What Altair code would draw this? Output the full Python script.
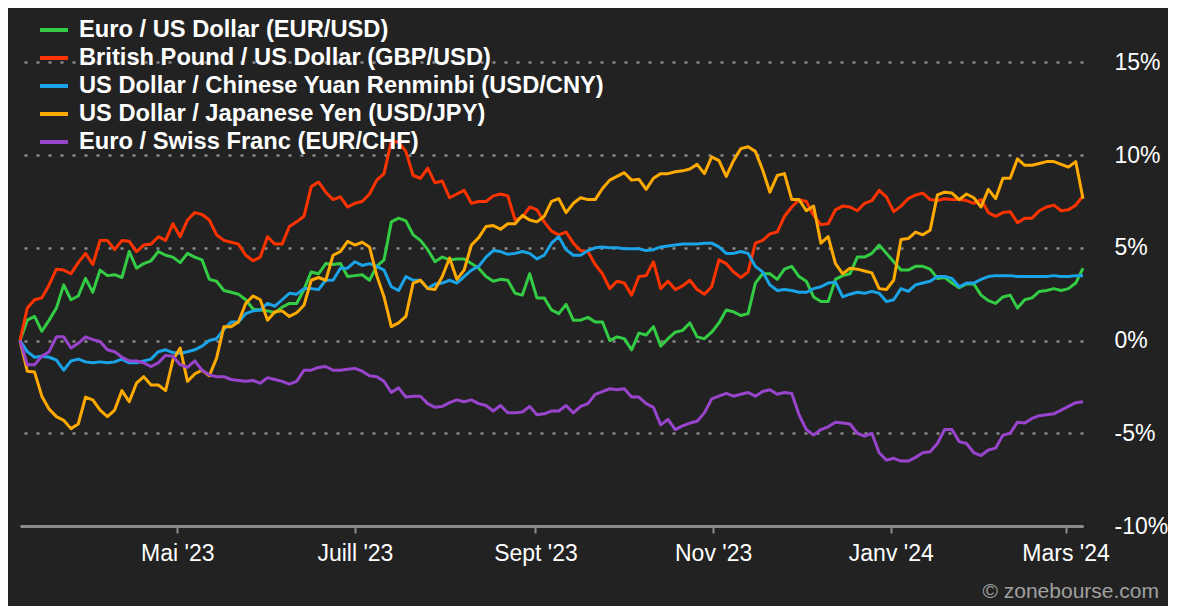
import altair as alt
import pandas as pd

# ---------------- data (percent change since start, read every 2.5 days) ----------------
start_date = "2023-03-08"
n_points = 147
step = "60h"
dates = pd.date_range(start_date, periods=n_points, freq=step).strftime("%Y-%m-%dT%H:%M:%SZ").tolist()

series_names = [
    "Euro / US Dollar (EUR/USD)",
    "British Pound / US Dollar (GBP/USD)",
    "US Dollar / Chinese Yuan Renminbi (USD/CNY)",
    "US Dollar / Japanese Yen (USD/JPY)",
    "Euro / Swiss Franc (EUR/CHF)",
]
series_colors = ["#33cc44", "#ff3300", "#1aa3e6", "#ffaa00", "#9944cc"]

eur_usd = [0, 1.1, 1.3, 0.5, 1.1, 1.75, 3.0, 2.2, 2.4, 3.35,
           2.6, 3.8, 3.5, 3.55, 3.4, 4.8, 3.9, 4.15, 4.3, 4.8,
           4.6, 4.5, 4.2, 4.7, 4.5, 4.35, 3.3, 3.2, 2.7, 2.6,
           2.5, 2.2, 1.7, 1.65, 1.6, 1.5, 1.8, 2.0, 2.0, 2.75,
           3.7, 3.6, 4.15, 4.1, 4.15, 3.45, 3.5, 3.55, 3.25, 4.0,
           4.35, 6.4, 6.6, 6.45, 5.7, 5.4, 4.9, 4.25, 4.5, 4.35,
           4.4, 4.4, 4.15, 3.9, 3.45, 3.2, 3.3, 3.25, 2.55, 2.45,
           3.6, 2.3, 2.3, 1.65, 1.45, 1.95, 1.1, 1.1, 1.25, 1.0,
           1.0, 0.0, 0.2, 0.1, -0.5, 0.4, 0.3, 0.75, -0.3, 0.1,
           0.45, 0.55, 0.95, 0.2, 0.1, 0.45, 0.95, 1.65, 1.55, 1.35,
           1.45, 3.1, 3.6, 3.6, 3.3, 3.85, 4.0, 3.45, 3.2, 2.35,
           2.1, 2.1, 3.3, 3.5, 3.6, 4.5, 4.5, 4.7, 5.15, 4.7,
           4.25, 3.8, 3.8, 4.0, 4.0, 3.85, 3.35, 3.4, 3.1, 2.85,
           3.05, 3.05, 2.45, 2.15, 2.0, 2.35, 2.45, 1.75, 2.2, 2.3,
           2.65, 2.7, 2.8, 2.7, 2.8, 3.1, 3.9]
gbp_usd = [0, 1.75, 2.2, 2.3, 3.0, 3.85, 3.8, 3.6, 4.2, 4.7,
           4.1, 5.4, 5.4, 4.9, 5.4, 5.35, 4.8, 5.15, 5.2, 5.6,
           5.4, 6.3, 5.6, 6.5, 6.9, 6.8, 6.5, 5.7, 5.4, 5.3,
           5.2, 4.6, 4.3, 4.5, 5.6, 5.2, 5.2, 6.15, 6.4, 6.7,
           8.3, 8.55, 8.0, 7.6, 7.75, 7.2, 7.4, 7.5, 7.9, 8.65,
           9.0, 10.75, 10.7, 10.2, 8.9, 8.75, 9.3, 8.5, 8.6, 7.7,
           7.9, 8.1, 7.4, 7.5, 7.5, 7.8, 7.9, 7.8, 6.5, 6.65,
           7.2, 7.05, 6.4, 5.9, 5.7, 5.85, 5.25, 4.85, 4.8, 4.1,
           3.6, 2.8, 3.2, 3.1, 2.45, 3.45, 3.5, 4.25, 2.8, 3.2,
           2.75, 2.95, 3.25, 2.75, 2.5, 2.9, 4.35, 4.15, 3.7, 3.4,
           3.7, 5.25, 5.4, 5.75, 5.85, 6.7, 7.2, 7.6, 7.5, 6.75,
           6.25, 6.3, 7.05, 7.25, 7.2, 7.0, 7.4, 7.55, 8.1, 7.75,
           6.95, 7.25, 7.65, 7.85, 7.95, 7.6, 7.55, 7.65, 7.6, 7.6,
           7.55, 7.4, 7.6, 6.9, 6.7, 6.9, 6.95, 6.35, 6.6, 6.6,
           7.0, 7.2, 7.3, 7.0, 7.05, 7.3, 7.8]
usd_cny = [0, -0.6, -0.9, -0.85, -0.9, -1.05, -1.6, -1.1, -1.0, -1.15,
           -1.2, -1.15, -1.2, -1.15, -1.0, -1.2, -1.2, -1.1, -1.0, -0.6,
           -0.5, -0.65, -0.7, -0.6, -0.5, -0.3, 0.0, 0.1, 0.6, 1.0,
           1.0, 1.45, 1.6, 1.65, 2.0, 1.85, 2.2, 2.55, 2.5, 2.8,
           2.8, 2.75, 3.25, 3.25, 3.9, 3.9, 4.25, 4.05, 4.15, 4.0,
           3.8, 2.9, 2.7, 3.45, 3.25, 3.25, 2.8, 3.05, 3.1, 3.25,
           3.1, 3.45, 3.8, 4.0, 4.5, 4.85, 4.8, 4.65, 4.7, 4.8,
           4.7, 4.4, 4.6, 5.25, 5.6, 4.9, 4.6, 4.6, 4.85, 5.0,
           5.05, 5.0, 5.0, 4.95, 4.95, 4.95, 4.85, 4.9, 5.05, 5.1,
           5.15, 5.2, 5.2, 5.2, 5.25, 5.25, 5.05, 4.7, 4.7, 4.8,
           4.7, 4.0, 3.7, 3.0, 2.7, 2.75, 2.7, 2.6, 2.6, 2.8,
           2.9, 3.1, 3.15, 2.35, 2.5, 2.6, 2.55, 2.65, 2.55, 2.1,
           2.2, 2.8, 2.65, 3.0, 3.1, 3.2, 3.45, 3.45, 3.35, 2.9,
           3.1, 3.1, 3.3, 3.45, 3.5, 3.5, 3.5, 3.45, 3.45, 3.45,
           3.45, 3.45, 3.5, 3.45, 3.45, 3.5, 3.5]
usd_jpy = [0, -1.65, -1.7, -3.0, -3.7, -4.1, -4.3, -4.75, -4.5, -3.05,
           -3.2, -3.75, -4.1, -3.75, -2.7, -3.3, -2.3, -1.95, -2.4, -2.4,
           -2.7, -1.05, -0.4, -2.2, -1.8, -1.6, -1.9, -0.95, 0.75, 0.75,
           1.0, 2.0, 2.4, 2.2, 1.1, 1.55, 1.6, 1.3, 1.5, 1.9,
           3.25, 3.4, 3.25, 4.6, 4.8, 5.35, 5.15, 5.3, 5.05, 3.5,
           2.35, 0.75, 0.95, 1.3, 3.1, 3.25, 2.8, 2.75, 3.45, 4.45,
           3.3, 3.8, 5.15, 5.55, 6.15, 6.2, 6.0, 6.3, 6.3, 6.75,
           6.5, 6.4, 6.7, 7.5, 7.65, 6.9, 7.4, 7.7, 7.6, 7.6,
           8.2, 8.65, 8.85, 9.05, 8.65, 8.7, 8.15, 8.75, 9.0, 9.0,
           9.1, 9.15, 9.25, 9.5, 9.0, 9.9, 9.7, 8.85, 9.7, 10.35,
           10.45, 10.2, 9.2, 8.0, 8.9, 9.0, 7.6, 7.6, 7.0, 7.25,
           5.25, 5.6, 4.15, 3.6, 3.9, 3.85, 3.75, 3.65, 2.8, 2.75,
           3.25, 5.45, 5.5, 5.85, 5.7, 5.95, 7.85, 8.0, 7.95, 7.6,
           7.9, 7.7, 7.2, 8.15, 7.65, 8.75, 8.75, 9.8, 9.45, 9.45,
           9.55, 9.65, 9.65, 9.5, 9.35, 9.65, 7.65]
eur_chf = [0, -1.3, -1.3, -0.85, -0.6, 0.2, 0.2, -0.4, -0.15, 0.2,
           0.05, -0.05, -0.5, -0.6, -0.9, -1.1, -1.1, -1.2, -1.4, -1.2,
           -0.8, -0.85, -1.3, -1.45, -1.1, -1.6, -1.85, -1.95, -1.95, -2.1,
           -2.15, -2.2, -2.15, -2.3, -2.0, -2.1, -2.2, -2.35, -2.2, -1.6,
           -1.6, -1.45, -1.4, -1.6, -1.6, -1.55, -1.5, -1.65, -1.9, -1.95,
           -2.2, -2.8, -2.55, -3.05, -3.0, -3.0, -3.4, -3.6, -3.55, -3.35,
           -3.2, -3.3, -3.2, -3.4, -3.5, -3.8, -3.5, -3.9, -3.9, -3.85,
           -3.55, -4.0, -3.95, -3.8, -3.8, -3.5, -3.9, -3.55, -3.4, -2.9,
           -2.75, -2.6, -2.65, -2.6, -3.05, -3.05, -3.4, -3.6, -4.55, -4.25,
           -4.8, -4.6, -4.45, -4.35, -3.9, -3.15, -3.0, -2.85, -3.0, -2.9,
           -2.8, -3.0, -2.75, -2.65, -2.9, -2.8, -2.85, -4.0, -4.8, -5.1,
           -4.8, -4.65, -4.4, -4.45, -4.5, -5.0, -5.15, -5.0, -6.05, -6.45,
           -6.35, -6.5, -6.5, -6.3, -6.05, -6.0, -5.55, -4.8, -4.8, -5.45,
           -5.55, -6.05, -6.2, -5.9, -5.8, -5.1, -5.0, -4.4, -4.45, -4.2,
           -4.05, -4.0, -3.95, -3.75, -3.55, -3.35, -3.3]

series_values = [eur_usd, gbp_usd, usd_cny, usd_jpy, eur_chf]

y_ticks = [-10, -5, 0, 5, 10, 15]
y_domain = [-10, 17.5]
x_tick_months = [(2023, 5), (2023, 7), (2023, 9), (2023, 11), (2024, 1), (2024, 3)]
x_tick_labels = ["Mai '23", "Juill '23", "Sept '23", "Nov '23", "Janv '24", "Mars '24"]
watermark = "© zonebourse.com"

# ---------------- build table ----------------
rows = []
for name, vals in zip(series_names, series_values):
    for d, v in zip(dates, vals):
        rows.append({"date": d, "value": v, "series": name})
df = pd.DataFrame(rows)

label_expr = ""
for (yy, mm), lab in zip(x_tick_months, x_tick_labels):
    label_expr += f"utcFormat(datum.value, '%Y-%m') == '{yy}-{mm:02d}' ? \"{lab}\" : "
label_expr += "''"

FONT = "Liberation Sans"
GRID = "#8a8a8a"

x_enc = alt.X(
    "date:T",
    scale=alt.Scale(type="utc"),
    axis=alt.Axis(
        values=[alt.DateTime(year=yy, month=mm, date=1, utc=True) for yy, mm in x_tick_months],
        labelExpr=label_expr,
        title=None,
        grid=False,
        domainColor=GRID,
        domainWidth=3,
        tickColor=GRID,
        tickWidth=2,
        tickSize=7,
        labelPadding=9,
        labelFontSize=23,
        labelFont=FONT,
        labelColor="#ffffff",
        labelFlush=False,
        labelOverlap=False,
    ),
)
y_enc = alt.Y(
    "value:Q",
    scale=alt.Scale(domain=y_domain, nice=False, zero=False),
    axis=alt.Axis(
        orient="right",
        values=y_ticks,
        labelExpr="datum.value + '%'",
        title=None,
        grid=True,
        gridColor=GRID,
        gridDash=[3, 9],
        gridWidth=2.5,
        domain=False,
        ticks=False,
        labelAlign="left",
        labelPadding=31,
        labelFontSize=23,
        labelFont=FONT,
        labelColor="#ffffff",
    ),
)
color_enc = alt.Color(
    "series:N",
    scale=alt.Scale(domain=series_names, range=series_colors),
    legend=alt.Legend(
        title=None,
        orient="none",
        legendX=18,
        legendY=-2,
        direction="vertical",
        symbolType="stroke",
        symbolSize=784,
        symbolStrokeWidth=4,
        labelFontSize=23.7,
        labelFont=FONT,
        labelFontWeight="bold",
        labelColor="#ffffff",
        labelLimit=2000,
        labelOffset=9,
        rowPadding=0,
        padding=0,
    ),
)

base = alt.Chart(df)
layers = []
for name in series_names:
    layers.append(
        base.transform_filter(alt.datum.series == name)
        .mark_line(strokeWidth=3, strokeJoin="round")
        .encode(x=x_enc, y=y_enc, color=color_enc)
    )

wm = alt.Chart(pd.DataFrame({"t": [watermark]})).mark_text(
    align="right", baseline="middle", font=FONT, fontSize=21, color="#a0a0a0"
).encode(text="t:N", x=alt.value(1139), y=alt.value(576))

chart = alt.layer(*layers, wm).properties(
    width=1063,
    height=510,
    background="#222222",
    padding={"left": 12, "top": 8, "right": 85, "bottom": 80},
    autosize=alt.AutoSizeParams(type="none"),
).configure_view(stroke=None)

chart.save("out.html", embed_options={"renderer": "svg", "actions": False})
